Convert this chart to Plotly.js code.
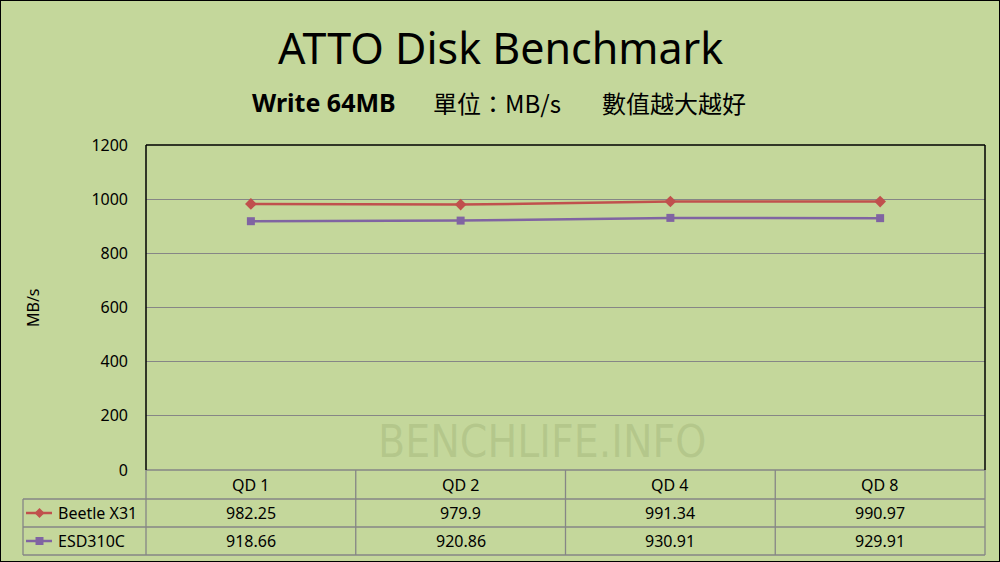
<!DOCTYPE html>
<html>
<head>
<meta charset="utf-8">
<script src="https://cdn.plot.ly/plotly-3.0.1.min.js"></script>
<style>
html,body{margin:0;padding:0;background:#C4D79B;}
#wrap{position:relative;width:1000px;height:562px;}
#chart{width:1000px;height:562px;}
#frame{position:absolute;left:0;top:0;width:998px;height:560px;border:1px solid #000;pointer-events:none;}
</style>
</head>
<body>
<div id="wrap"><div id="chart"></div><div id="frame"></div></div>
<script>
const categories = ["QD 1", "QD 2", "QD 4", "QD 8"];
const seriesNames = ["Beetle X31", "ESD310C"];
const beetleX31 = [982.25, 979.9, 991.34, 990.97];
const esd310c = [918.66, 920.86, 930.91, 929.91];
const seriesColors = ["#C0504D", "#8064A2"];
const seriesSymbols = ["diamond", "square"];
const yTicks = [0, 200, 400, 600, 800, 1000, 1200];

const seriesValues = [beetleX31, esd310c];
const fontMain = '"Noto Sans", "Noto Sans CJK TC", sans-serif';
const fontCJK = '"Noto Sans CJK TC", "Noto Sans", sans-serif';

// layout geometry (pixels)
const W = 1000, H = 562;
const mL = 146, mR = 15, mT = 145, mB = 92;
const plotH = H - mT - mB;
const plotW = W - mL - mR;
const py = y => (H - mB - y) / plotH;     // pixel y -> paper y
const px = x => (x - mL) / plotW;         // pixel x -> paper x

const rowEdges = [470, 499, 527, 555].map(py);
const rowCenters = [485, 513, 541].map(py);
const legendLeft = px(23);

const xIdx = categories.map((c, i) => i);

const traces = seriesValues.map((vals, s) => ({
  type: 'scatter',
  mode: 'lines+markers',
  x: xIdx,
  y: vals,
  name: seriesNames[s],
  line: {color: seriesColors[s], width: 2.5},
  marker: {color: seriesColors[s], symbol: seriesSymbols[s], size: s === 0 ? 9 : 8},
  showlegend: false,
  hoverinfo: 'skip'
}));

const gridC = '#868686';
const shapes = [];
// horizontal table lines
shapes.push({type:'line', xref:'paper', yref:'paper', x0:0, x1:1, y0:rowEdges[0], y1:rowEdges[0], line:{color:gridC, width:1.3}});
for (let r = 1; r < 4; r++) {
  shapes.push({type:'line', xref:'paper', yref:'paper', x0:legendLeft, x1:1, y0:rowEdges[r], y1:rowEdges[r], line:{color:gridC, width:1.3}});
}
// vertical table lines
shapes.push({type:'line', xref:'paper', yref:'paper', x0:legendLeft, x1:legendLeft, y0:rowEdges[1], y1:rowEdges[3], line:{color:gridC, width:1.3}});
shapes.push({type:'line', xref:'paper', yref:'paper', x0:0, x1:0, y0:rowEdges[0], y1:rowEdges[3], line:{color:gridC, width:1.3}});
shapes.push({type:'line', xref:'paper', yref:'paper', x0:1, x1:1, y0:rowEdges[0], y1:rowEdges[3], line:{color:gridC, width:1.3}});
for (let i = 0; i < categories.length - 1; i++) {
  shapes.push({type:'line', xref:'x', yref:'paper', x0:i + 0.5, x1:i + 0.5, y0:rowEdges[0], y1:rowEdges[3], line:{color:gridC, width:1.3}});
}
// plot frame (left, top, right in black)
shapes.push({type:'line', xref:'paper', yref:'paper', x0:0, x1:0, y0:0, y1:1, line:{color:'#000', width:1.5}});
shapes.push({type:'line', xref:'paper', yref:'paper', x0:0, x1:1, y0:1, y1:1, line:{color:'#000', width:1.5}});
shapes.push({type:'line', xref:'paper', yref:'paper', x0:1, x1:1, y0:0, y1:1, line:{color:'#000', width:1.5}});

// legend keys in table
const keyX0 = px(26), keyX1 = px(52);
seriesNames.forEach((n, s) => {
  shapes.push({type:'line', xref:'paper', yref:'paper', x0:keyX0, x1:keyX1, y0:rowCenters[s+1], y1:rowCenters[s+1], line:{color:seriesColors[s], width:2.5}});
});
(function(){
  const cy = 513, cx = 39.5, r = 5;
  shapes.push({type:'path', xref:'paper', yref:'paper',
    path:`M ${px(cx)} ${py(cy - r)} L ${px(cx + r)} ${py(cy)} L ${px(cx)} ${py(cy + r)} L ${px(cx - r)} ${py(cy)} Z`,
    fillcolor:seriesColors[0], line:{color:seriesColors[0], width:0}});
  const cy2 = 541, h = 4;
  shapes.push({type:'rect', xref:'paper', yref:'paper', x0:px(cx - h), x1:px(cx + h), y0:py(cy2 + h), y1:py(cy2 - h),
    fillcolor:seriesColors[1], line:{color:seriesColors[1], width:0}});
})();

const annotations = [];
// title & subtitle
annotations.push({xref:'paper', yref:'paper', x:px(500), y:py(47), text:'ATTO Disk Benchmark', showarrow:false, xanchor:'center', yanchor:'middle', font:{family:fontMain, size:43, color:'#000'}});
annotations.push({xref:'paper', yref:'paper', x:px(250), y:py(102), text:'<b>Write 64MB</b>', showarrow:false, xanchor:'left', yanchor:'middle', font:{family:fontMain, size:25, color:'#000'}});
annotations.push({xref:'paper', yref:'paper', x:px(431), y:py(102), text:'單位：MB/s', showarrow:false, xanchor:'left', yanchor:'middle', font:{family:fontCJK, size:24, color:'#000'}});
annotations.push({xref:'paper', yref:'paper', x:px(600), y:py(102), text:'數值越大越好', showarrow:false, xanchor:'left', yanchor:'middle', font:{family:fontCJK, size:24, color:'#000'}});
// y-axis title
annotations.push({xref:'paper', yref:'paper', x:px(33), y:py(308), text:'MB/s', textangle:-90, showarrow:false, xanchor:'center', yanchor:'middle', font:{family:fontMain, size:16, color:'#000'}});
// watermark
annotations.push({xref:'paper', yref:'paper', x:px(542), y:py(441), text:'BENCHLIFE.INFO', showarrow:false, xanchor:'center', yanchor:'middle', font:{family:'"DejaVu Sans Condensed", "DejaVu Sans", sans-serif', size:44, color:'rgba(140,160,100,0.28)'}});
// header row
categories.forEach((c, i) => {
  annotations.push({xref:'x', yref:'paper', x:i, y:rowCenters[0], text:c, showarrow:false, xanchor:'center', yanchor:'middle', font:{family:fontMain, size:16, color:'#000'}});
});
// data rows
seriesValues.forEach((vals, s) => {
  annotations.push({xref:'paper', yref:'paper', x:px(56), y:rowCenters[s+1], text:seriesNames[s], showarrow:false, xanchor:'left', yanchor:'middle', font:{family:fontMain, size:16, color:'#000'}});
  vals.forEach((v, i) => {
    annotations.push({xref:'x', yref:'paper', x:i, y:rowCenters[s+1], text:String(v), showarrow:false, xanchor:'center', yanchor:'middle', font:{family:fontMain, size:16, color:'#000'}});
  });
});

const layout = {
  width: W, height: H,
  margin: {l: mL, r: mR, t: mT, b: mB, pad: 0},
  paper_bgcolor: '#C4D79B',
  plot_bgcolor: '#C4D79B',
  showlegend: false,
  xaxis: {
    range: [-0.5, categories.length - 0.5],
    showticklabels: false, showgrid: false, zeroline: false, showline: false, ticks: '',
    fixedrange: true
  },
  yaxis: {
    range: [0, 1200],
    tickvals: yTicks,
    ticktext: yTicks.map(String),
    showgrid: true, gridcolor: gridC, gridwidth: 1.3,
    zeroline: false, showline: false, ticks: '',
    ticklabelstandoff: 17,
    tickfont: {family: fontMain, size: 16, color: '#000'},
    fixedrange: true
  },
  shapes: shapes,
  annotations: annotations
};

Plotly.newPlot('chart', traces, layout, {displayModeBar: false, staticPlot: true});
</script>
</body>
</html>
